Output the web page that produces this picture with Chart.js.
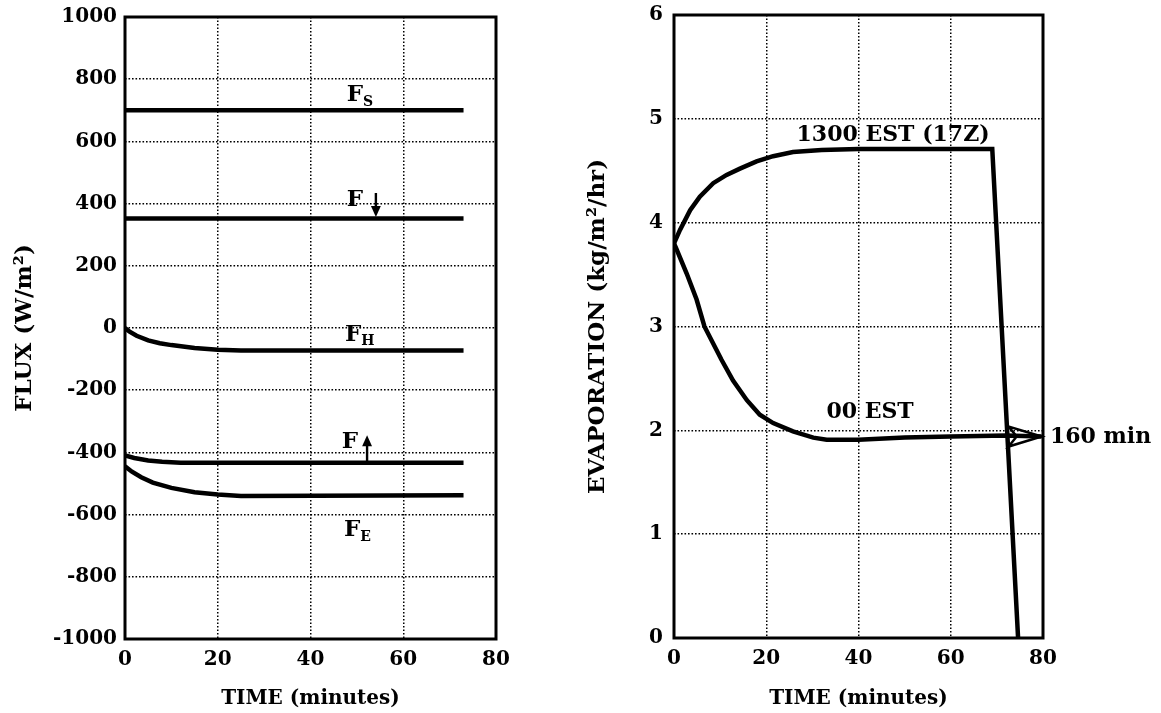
<!DOCTYPE html>
<html>
<head>
<meta charset="utf-8">
<script src="https://cdn.jsdelivr.net/npm/chart.js@4.4.0/dist/chart.umd.min.js"></script>
<style>
  html, body { margin: 0; padding: 0; background: #fff; }
  #fluxBox { position: absolute; left: 0; top: 0; width: 540px; height: 713px; }
  #evapBox { position: absolute; left: 540px; top: 0; width: 621px; height: 713px; }
</style>
</head>
<body>
<div id="fluxBox"><canvas id="fluxChart"></canvas></div>
<div id="evapBox"><canvas id="evapChart"></canvas></div>
<script>
// --- datos: panel izquierdo (flujos, W/m2) ---
const timeFlat = [0, 73];
const fluxS = [700, 700];
const fluxDown = [352, 352];
const timeH = [0, 1, 2.5, 5, 7.5, 10, 15, 20, 25, 73];
const fluxH = [0, -12, -25, -40, -49, -55, -64, -70, -72, -72];
const timeUp = [0, 2, 5, 8, 12, 73];
const fluxUp = [-410, -418, -426, -430, -433, -433];
const timeE = [0, 1.5, 3.5, 6, 10, 15, 20, 25, 73];
const fluxE = [-445, -462, -480, -497, -514, -528, -535, -540, -538];

// etiquetas del panel izquierdo
const fluxNoteX = [49.6, 49.6, 49.2, 48.5, 49];
const fluxNoteY = [749, 412, -22, -366, -650];
const fluxNoteSub = ['S', '', 'H', '', 'E'];
const fluxArrowX = [54.1, 52.2];
const fluxArrowFrom = [434, -433];
const fluxArrowTo = [357, -345];

// --- datos: panel derecho (evaporacion, kg/m2/hr) ---
const dayTime = [0, 1.3, 3.5, 5.6, 8.5, 11.4, 14.3, 17.9, 21.5, 25.8, 32, 40, 69, 74.6];
const dayEvap = [3.80, 3.93, 4.12, 4.25, 4.38, 4.46, 4.52, 4.59, 4.64, 4.68, 4.70, 4.71, 4.71, 0];
const nightTime = [0, 0.5, 2.75, 4.9, 6.6, 10.3, 12.8, 15.8, 18.6, 21.5, 25.8, 30.2, 33.1, 40, 50, 60, 72, 79.7];
const nightEvap = [3.80, 3.75, 3.51, 3.26, 3.00, 2.68, 2.48, 2.29, 2.15, 2.07, 1.99, 1.93, 1.91, 1.91, 1.93, 1.94, 1.95, 1.94];

const evapNoteText = ['1300 EST (17Z)', '00 EST', '160 min'];
const evapNoteX = [47.5, 42.5, 81.5];
const evapNoteY = [4.84, 2.17, 1.93];

const serif = "'DejaVu Serif', 'Liberation Serif', serif";
const tickFont = { family: serif, size: 20, weight: 'bold' };
const xTitleFont = { family: serif, size: 20, weight: 'bold' };
const yTitleFont = { family: serif, size: 23, weight: 'bold' };

function toPoints(xs, ys) {
    return xs.map((x, i) => ({ x: x, y: ys[i] }));
}

function lineSet(xs, ys) {
    return {
        data: toPoints(xs, ys),
        borderColor: '#000',
        borderWidth: 4.5,
        pointRadius: 0,
        tension: 0,
        fill: false
    };
}

function gridColor(min, max) {
    return ctx => (ctx.tick && (ctx.tick.value === min || ctx.tick.value === max)) ? 'rgba(0,0,0,0)' : '#000';
}

function xAxis(height) {
    return {
        type: 'linear', min: 0, max: 80,
        ticks: { stepSize: 20, padding: 9, color: '#000', font: tickFont },
        grid: { color: gridColor(0, 80), lineWidth: 1.5, drawTicks: false },
        border: { display: false, dash: [1.6, 1.9] },
        title: { display: true, text: 'TIME (minutes)', color: '#000', font: xTitleFont, padding: { top: 0, bottom: 2 } },
        afterFit: s => { s.height = height; s.paddingLeft = 0; s.paddingRight = 0; }
    };
}

function yAxis(min, max, step, width, titleText, titlePad, labelPad) {
    return {
        type: 'linear', min: min, max: max,
        ticks: { stepSize: step, padding: labelPad, color: '#000', font: tickFont, callback: v => String(v) },
        grid: { color: gridColor(min, max), lineWidth: 1.5, drawTicks: false },
        border: { display: false, dash: [1.6, 1.9] },
        title: { display: true, text: titleText, color: '#000', font: yTitleFont, padding: { top: titlePad, bottom: 0 } },
        afterFit: s => { s.width = width; s.paddingTop = 0; s.paddingBottom = 0; }
    };
}

// marco negro alrededor del area de trazado
const framePlugin = {
    id: 'frame',
    beforeDatasetsDraw(chart) {
        const a = chart.chartArea, ctx = chart.ctx;
        ctx.save();
        ctx.lineWidth = 3;
        ctx.strokeStyle = '#000';
        ctx.strokeRect(a.left, a.top, a.right - a.left, a.bottom - a.top);
        ctx.restore();
    }
};

function drawArrowHead(ctx, x, y, dir, size) {
    ctx.beginPath();
    ctx.moveTo(x, y);
    ctx.lineTo(x - size * 0.45, y - dir * size);
    ctx.lineTo(x + size * 0.45, y - dir * size);
    ctx.closePath();
    ctx.fill();
}

const fluxNotes = {
    id: 'fluxNotes',
    afterDraw(chart) {
        const ctx = chart.ctx, sx = chart.scales.x, sy = chart.scales.y;
        ctx.save();
        ctx.fillStyle = '#000';
        ctx.strokeStyle = '#000';
        ctx.textBaseline = 'middle';
        fluxNoteX.forEach((v, i) => {
            const px = sx.getPixelForValue(v), py = sy.getPixelForValue(fluxNoteY[i]);
            ctx.font = 'bold 23px ' + serif;
            ctx.textAlign = 'center';
            ctx.fillText('F', px, py);
            if (fluxNoteSub[i]) {
                ctx.font = 'bold 14px ' + serif;
                ctx.textAlign = 'left';
                ctx.fillText(fluxNoteSub[i], px + 8, py + 7);
            }
        });
        fluxArrowX.forEach((v, i) => {
            const px = sx.getPixelForValue(v);
            const y1 = sy.getPixelForValue(fluxArrowFrom[i]), y2 = sy.getPixelForValue(fluxArrowTo[i]);
            const dir = y2 > y1 ? 1 : -1;
            ctx.lineWidth = 2.4;
            ctx.beginPath();
            ctx.moveTo(px, y1);
            ctx.lineTo(px, y2 - dir * 8);
            ctx.stroke();
            drawArrowHead(ctx, px, y2, dir, 11);
        });
        ctx.restore();
    }
};

const evapNotes = {
    id: 'evapNotes',
    afterDraw(chart) {
        const ctx = chart.ctx, sx = chart.scales.x, sy = chart.scales.y;
        ctx.save();
        ctx.fillStyle = '#000';
        ctx.strokeStyle = '#000';
        ctx.textBaseline = 'middle';
        ctx.font = 'bold 22px ' + serif;
        evapNoteText.forEach((t, i) => {
            ctx.textAlign = i === 2 ? 'left' : 'center';
            ctx.fillText(t, sx.getPixelForValue(evapNoteX[i]), sy.getPixelForValue(evapNoteY[i]));
        });
        // punta de flecha al final de la curva nocturna
        const pts = chart.getDatasetMeta(1).data;
        const tip = pts[pts.length - 1];
        ctx.lineWidth = 2.5;
        ctx.lineJoin = 'miter';
        ctx.beginPath();
        ctx.moveTo(tip.x, tip.y);
        ctx.lineTo(tip.x - 33, tip.y - 10);
        ctx.lineTo(tip.x - 25, tip.y);
        ctx.lineTo(tip.x - 33, tip.y + 10);
        ctx.closePath();
        ctx.stroke();
        ctx.restore();
    }
};

new Chart(document.getElementById('fluxChart'), {
    type: 'line',
    data: {
        datasets: [
            lineSet(timeFlat, fluxS),
            lineSet(timeFlat, fluxDown),
            lineSet(timeH, fluxH),
            lineSet(timeUp, fluxUp),
            lineSet(timeE, fluxE)
        ]
    },
    options: {
        responsive: true,
        maintainAspectRatio: false,
        animation: false,
        layout: { padding: { left: 0, top: 17, right: 44, bottom: 0 } },
        plugins: { legend: { display: false }, tooltip: { enabled: false } },
        scales: {
            x: xAxis(74),
            y: yAxis(-1000, 1000, 200, 125, 'FLUX (W/m²)', 11, 8)
        }
    },
    plugins: [framePlugin, fluxNotes]
});

new Chart(document.getElementById('evapChart'), {
    type: 'line',
    data: {
        datasets: [
            lineSet(dayTime, dayEvap),
            lineSet(nightTime, nightEvap)
        ]
    },
    options: {
        responsive: true,
        maintainAspectRatio: false,
        animation: false,
        layout: { padding: { left: 0, top: 15, right: 118, bottom: 0 } },
        plugins: { legend: { display: false }, tooltip: { enabled: false } },
        scales: {
            x: xAxis(75),
            y: yAxis(0, 6, 1, 134, 'EVAPORATION (kg/m²/hr)', 44, 11)
        }
    },
    plugins: [framePlugin, evapNotes]
});
</script>
</body>
</html>
